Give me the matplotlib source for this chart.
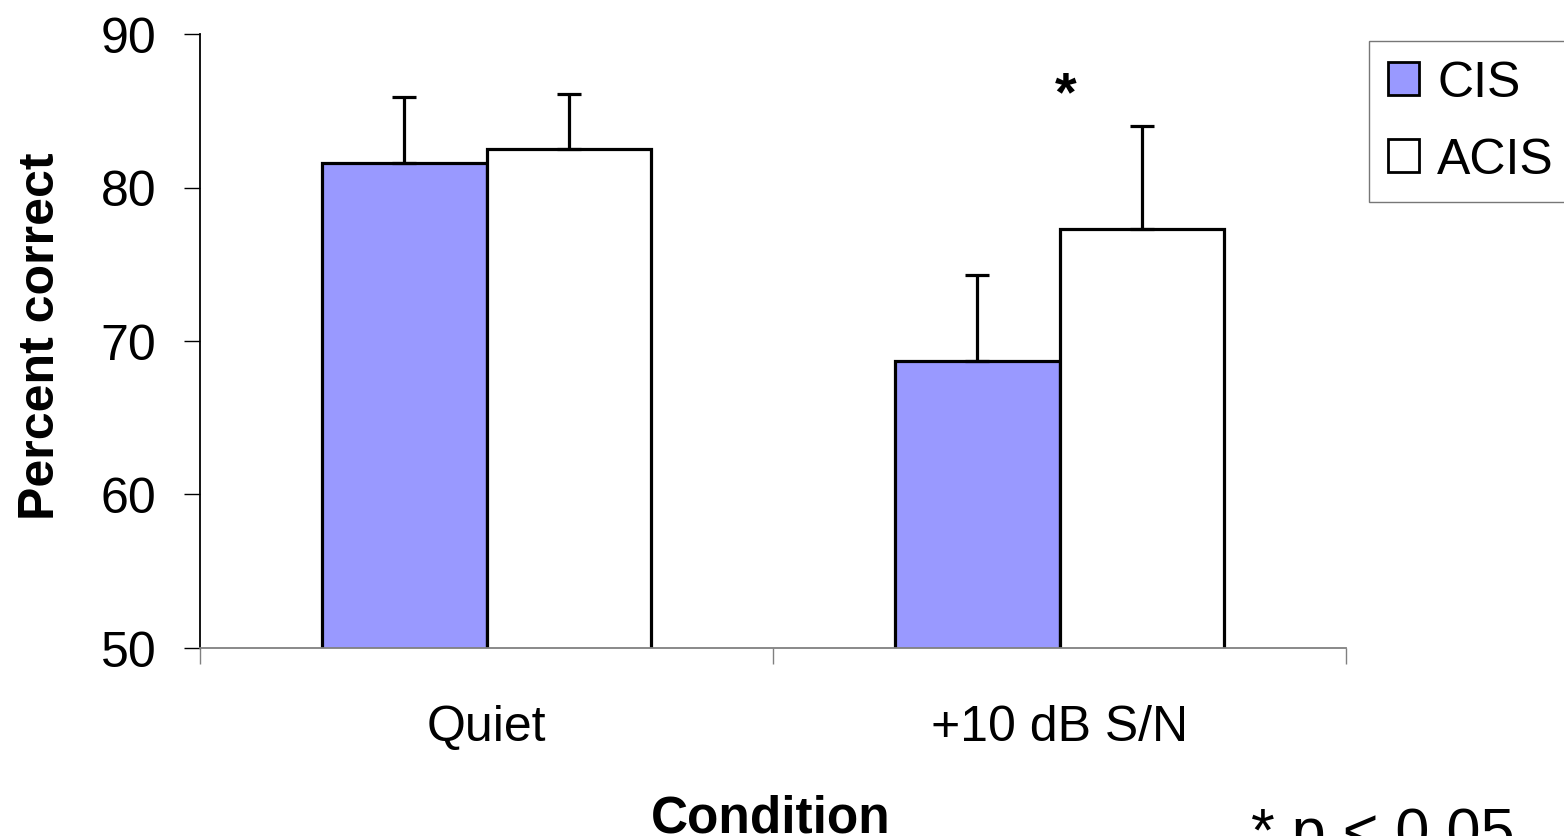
import numpy as np
import matplotlib.pyplot as plt

plt.rcParams["font.family"] = ["Liberation Sans", "DejaVu Sans"]

conditions = ["Quiet", "+10 dB S/N"]
cis_mean = [81.6, 68.7]
acis_mean = [82.5, 77.3]
cis_err = [4.3, 5.6]
acis_err = [3.6, 6.7]

cis_color = "#9999FF"
width = 0.287

fig = plt.figure(figsize=(15.64, 8.37), dpi=100)
ax = fig.add_axes([200 / 1564, 1 - 649 / 837, 1146 / 1564, 614 / 837])

x = np.arange(len(conditions))
err_kw = dict(ecolor="black", elinewidth=2.3, capsize=8.5, capthick=2.3)

ax.bar(x - width / 2, cis_mean, width, color=cis_color, edgecolor="black",
       linewidth=2.3, yerr=[np.zeros(len(cis_err)), cis_err],
       error_kw=err_kw, label="CIS", zorder=2)
ax.bar(x + width / 2, acis_mean, width, color="white", edgecolor="black",
       linewidth=2.3, yerr=[np.zeros(len(acis_err)), acis_err],
       error_kw=err_kw, label="ACIS", zorder=2)

ax.set_xlim(-0.5, 1.5)
ax.set_ylim(50, 90)
ax.set_yticks([50, 60, 70, 80, 90])

# category labels sit between the boundary ticks
ax.set_xticks(x)
ax.set_xticklabels(conditions)
ax.set_xticks([-0.5, 0.5, 1.5], minor=True)
ax.tick_params(axis="x", which="major", length=0, pad=40, labelsize=36)
ax.tick_params(axis="x", which="minor", length=11.5, width=1, color="#808080")
ax.tick_params(axis="y", length=11.5, width=1, pad=20, labelsize=36)

for side in ["top", "right"]:
    ax.spines[side].set_visible(False)
ax.spines["left"].set_linewidth(1.3)
ax.spines["bottom"].set_color("#808080")
ax.spines["bottom"].set_linewidth(1.3)

ax.set_ylabel("Percent correct", fontsize=36, fontweight="bold", va="baseline")
ax.yaxis.set_label_coords(-0.127, 0.51)
ax.set_xlabel("Condition", fontsize=37, fontweight="bold", va="baseline")
ax.xaxis.set_label_coords(771 / 1564, 1 - 833 / 837, transform=fig.transFigure)

ax.text(1.01, 86.0, "*", fontsize=40, fontweight="bold", ha="center", va="center")
fig.text(1251 / 1564, 1 - 851 / 837, "* p < 0.05", fontsize=44, ha="left",
         va="baseline")

leg = fig.legend(loc="upper left", bbox_to_anchor=(1369 / 1564, 1 - 42 / 837),
                 borderaxespad=0, fontsize=36, frameon=True, fancybox=False,
                 handlelength=0.62, handleheight=0.62, handletextpad=0.36,
                 borderpad=0.38, labelspacing=0.62)
leg.get_frame().set_edgecolor("#555555")
leg.get_frame().set_linewidth(1.0)
for h in leg.legend_handles:
    h.set_linewidth(2)

fig.savefig("out.png", dpi=100)
